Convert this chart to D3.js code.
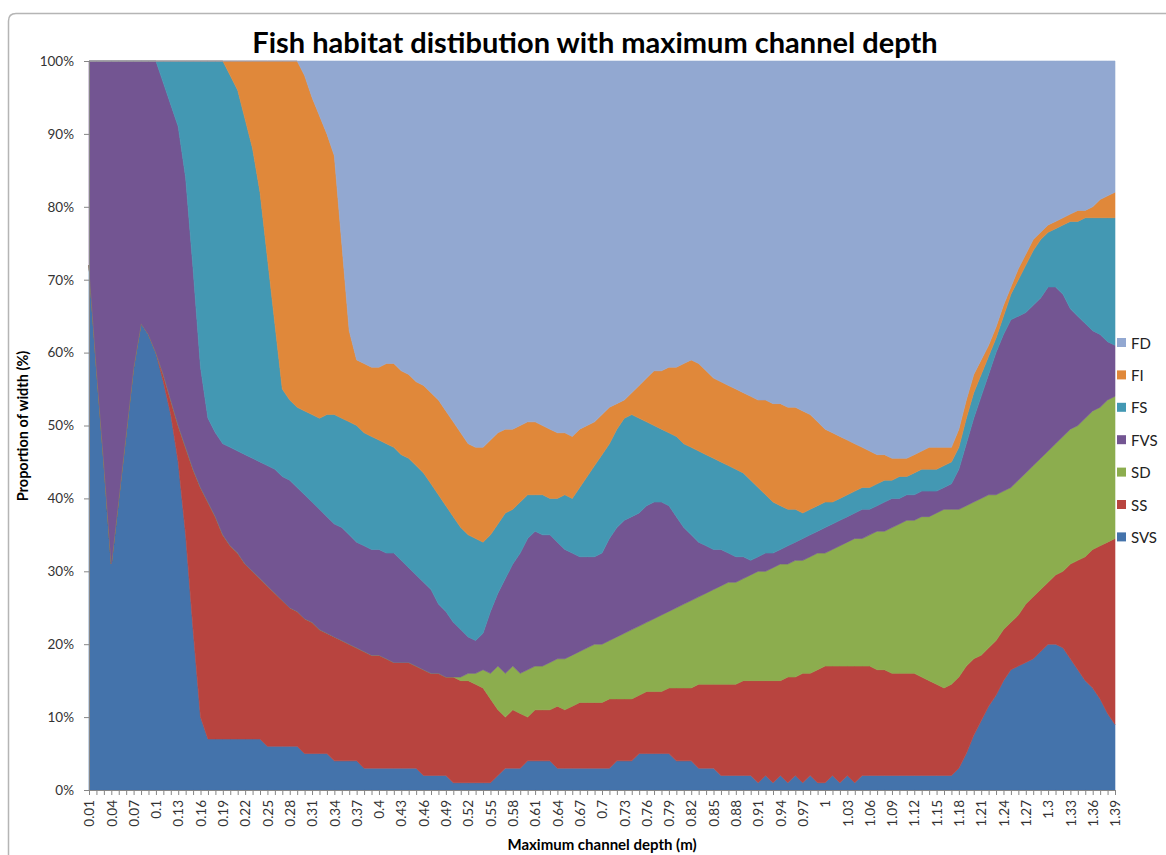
<!DOCTYPE html>
<html>
<head>
<meta charset="utf-8">
<script src="https://cdnjs.cloudflare.com/ajax/libs/d3/7.8.5/d3.min.js"></script>
<style>
  html, body { margin: 0; padding: 0; background: #ffffff; }
  svg { display: block; }
  text { font-family: Lato, "Open Sans", "Liberation Sans", sans-serif; }
</style>
</head>
<body>
<svg id="chart" width="1166" height="855"></svg>
<script>
// ---- categories (maximum channel depth, m) ----
const depths = [0.01,0.02,0.03,0.04,0.05,0.06,0.07,0.08,0.09,0.1,
0.11,0.12,0.13,0.14,0.15,0.16,0.17,0.18,0.19,0.2,
0.21,0.22,0.23,0.24,0.25,0.26,0.27,0.28,0.29,0.3,
0.31,0.32,0.33,0.34,0.35,0.36,0.37,0.38,0.39,0.4,
0.41,0.42,0.43,0.44,0.45,0.46,0.47,0.48,0.49,0.5,
0.51,0.52,0.53,0.54,0.55,0.56,0.57,0.58,0.59,0.6,
0.61,0.62,0.63,0.64,0.65,0.66,0.67,0.68,0.69,0.7,
0.71,0.72,0.73,0.74,0.75,0.76,0.77,0.78,0.79,0.8,
0.81,0.82,0.83,0.84,0.85,0.86,0.87,0.88,0.89,0.9,
0.91,0.92,0.93,0.94,0.95,0.96,0.97,0.98,0.99,1,
1.01,1.02,1.03,1.04,1.05,1.06,1.07,1.08,1.09,1.1,
1.11,1.12,1.13,1.14,1.15,1.16,1.17,1.18,1.19,1.2,
1.21,1.22,1.23,1.24,1.25,1.26,1.27,1.28,1.29,1.3,
1.31,1.32,1.33,1.34,1.35,1.36,1.37,1.38,1.39];

// ---- series values (% of width) ----
const SVS = [72,58,45,31,40,49,58,64,62.5,60,
56,51.5,45,35,22,10,7,7,7,7,
7,7,7,7,6,6,6,6,6,5,
5,5,5,4,4,4,4,3,3,3,
3,3,3,3,3,2,2,2,2,1,
1,1,1,1,1,2,3,3,3,4,
4,4,4,3,3,3,3,3,3,3,
3,4,4,4,5,5,5,5,5,4,
4,4,3,3,3,2,2,2,2,2,
1,2,1,2,1,2,1,2,1,1,
2,1,2,1,2,2,2,2,2,2,
2,2,2,2,2,2,2,3,5,7.5,
9.5,11.5,13,15,16.5,17,17.5,18,19,20,
20,19.5,18,16.5,15,14,12.5,10.5,9];

const SS = [0,0,0,0,0,0,0,0,0,0,
1,2,5,12,22,31.5,32.5,30.5,28,26.5,
25.5,24,23,22,22,21,20,19,18.5,18.5,
18,17,16.5,17,16.5,16,15.5,16,15.5,15.5,
15,14.5,14.5,14.5,14,14.5,14,14,13.5,14.5,
14,14,13.5,13,11.5,9,7,8,7.5,6,
7,7,7,8.5,8,8.5,9,9,9,9,
9.5,8.5,8.5,8.5,8,8.5,8.5,8.5,9,10,
10,10,11.5,11.5,11.5,12.5,12.5,12.5,13,13,
14,13,14,13,14.5,13.5,15,14,15.5,16,
15,16,15,16,15,15,14.5,14.5,14,14,
14,14,13.5,13,12.5,12,12.5,12.5,12,10.5,
9,8,7.5,7,6.5,7,8,8.5,8.5,8.5,
9.5,10.5,13,15,17,19,21,23.5,25.5];

const SD = [0,0,0,0,0,0,0,0,0,0,
0,0,0,0,0,0,0,0,0,0,
0,0,0,0,0,0,0,0,0,0,
0,0,0,0,0,0,0,0,0,0,
0,0,0,0,0,0,0,0,0,0,
0.5,1,1.5,2.5,3.5,6,6,6,5.5,6.5,
6,6,6.5,6.5,7,7,7,7.5,8,8,
8,8.5,9,9.5,9.5,9.5,10,10.5,10.5,11,
11.5,12,12,12.5,13,13.5,14,14,14,14.5,
15,15,15.5,16,15.5,16,15.5,16,16,15.5,
16,16.5,17,17.5,17.5,18,19,19,20,20.5,
21,21,22,22.5,23.5,24.5,24,23,22,21.5,
21.5,21,20,19,18.5,18.5,18,18,18,18,
18,18.5,18.5,18.5,19,19,19,19.5,19.5];

const FVS = [28,42,55,69,60,51,42,36,37.5,40,
40,40.5,41,37,27.5,16.5,11.5,11.5,12.5,13.5,
14,15,15.5,16,16.5,17,17,17.5,17,17,
16.5,16.5,16,15.5,15.5,15,14.5,14.5,14.5,14.5,
14.5,15,14,13,12.5,12,11.5,9.5,9,7.5,
6.5,5,4.5,5,8.5,10,13,14,16.5,18,
18.5,18,17.5,16,15,14,13,12.5,12,12.5,
14,15,15.5,15.5,15.5,16,16,15.5,14.5,12.5,
10.5,9,7.5,6.5,5.5,5,4,3.5,3,2,
2,2.5,2,2,2.5,2.5,3,3,3,3.5,
3.5,3.5,3.5,3.5,4,3.5,3.5,4,4,3.5,
3.5,3.5,3.5,3.5,3,3,3.5,5.5,8.5,11.5,
14,16.5,19.5,21.5,23,22.5,22,22,22,22.5,
21.5,19.5,16.5,15,13,11,10,8,7];

const FS = [0,0,0,0,0,0,0,0,0,0,
3,6,9,16,28.5,42,49,51,52.5,51,
49.5,46,42.5,37,28.5,20,12,11,11,11.5,
12,12.5,14,15,15,15.5,16,15.5,15.5,15,
15,14.5,14.5,15,15,15,14.5,15,14.5,14.5,
14,14,14,12.5,10.5,9.5,9,7.5,7,6,
5,5.5,5,6,7.5,7.5,9.5,11,12.5,13.5,
13,13.5,14,14,13,11.5,10.5,10,10,11,
11.5,12,12.5,12.5,12.5,12,12,12,11.5,11,
9.5,8,7,6,5,4.5,3.5,3.5,3.5,3.5,
3,3,3,3,3,3,3,3,2.5,3,
2.5,3,3,3,3,3,3,3,3.5,3.5,
3,2.5,2,2.5,3.5,5,6.5,7.5,8,7.5,
8,9.5,12,13,14.5,15.5,16,17,17.5];

const FI = [0,0,0,0,0,0,0,0,0,0,
0,0,0,0,0,0,0,0,0,2,
4,8,12,18,27,36,45,46.5,47.5,46,
43.5,41.5,38.5,35.5,24,12.5,9,9.5,9.5,10,
11,11.5,11.5,11.5,11.5,12,12.5,13,13,13,
13,12.5,12.5,13,13,12.5,11.5,11,10.5,10,
10,9.5,9.5,9,8.5,8.5,8,7,6,5.5,
5,3.5,2.5,3,4.5,6,7.5,8,9,9.5,
11,12,12,11.5,11,11,11,11,11,11.5,
12,13,13.5,14,14,14,14,13,11.5,10,
9.5,8.5,7.5,6.5,5.5,5,4,3.5,3,2.5,
2.5,2.5,2.5,3,3,2.5,2,2.5,2.5,2.5,
2,1.5,1.5,1.5,1,1.5,1.5,1.5,1,1,
1,1,1,1.5,1,1.5,2.5,3,3.5];

const FD = [0,0,0,0,0,0,0,0,0,0,
0,0,0,0,0,0,0,0,0,0,
0,0,0,0,0,0,0,0,0,2,
5,7.5,10,13,25,37,41,41.5,42,42,
41.5,41.5,42.5,43,44,44.5,45.5,46.5,48,49.5,
51,52.5,53,53,52,51,50.5,50.5,50,49.5,
49.5,50,50.5,51,51,51.5,50.5,50,49.5,48.5,
47.5,47,46.5,45.5,44.5,43.5,42.5,42.5,42,42,
41.5,41,41.5,42.5,43.5,44,44.5,45,45.5,46,
46.5,46.5,47,47,47.5,47.5,48,48.5,49.5,50.5,
51,51.5,52,52.5,53,53.5,54,54,54.5,54.5,
54.5,54,53.5,53,53,53,53,50.5,46.5,43,
41,39,36.5,33.5,31,28.5,26.5,24.5,23.5,22.5,
22,21.5,21,20.5,20.5,20,19,18.5,18];

const seriesNames = ["SVS","SS","SD","FVS","FS","FI","FD"];
const seriesColors = ["#4473ab","#b8443f","#8cad4e","#735592","#4398b3","#e0883a","#92a8d1"];
const yTicks = [0,0.1,0.2,0.3,0.4,0.5,0.6,0.7,0.8,0.9,1];

const titleText = "Fish habitat distibution with maximum channel depth";
const xTitle = "Maximum channel depth (m)";
const yTitle = "Proportion of width (%)";

// ---- build table ----
const seriesData = {SVS, SS, SD, FVS, FS, FI, FD};
const rows = depths.map((d, i) => {
  const r = {depth: String(d)};
  seriesNames.forEach(n => r[n] = seriesData[n][i]);
  return r;
});

const svg = d3.select("#chart");
const L = 89, R = 1115, T = 61, B = 790;

const x = d3.scalePoint().domain(rows.map(r => r.depth)).range([L, R]);
const y = d3.scaleLinear().domain([0, 1]).range([B, T]);
const color = d3.scaleOrdinal().domain(seriesNames).range(seriesColors);

// outer chart border
svg.append("path")
  .attr("d", `M8.5,855 L8.5,21 Q8.5,13.5 16,13.5 L1166,13.5`)
  .attr("fill", "none").attr("stroke", "#b5b5b5").attr("stroke-width", 1.5);

const stack = d3.stack().keys(seriesNames).offset(d3.stackOffsetExpand);
const stacked = stack(rows);

const area = d3.area()
  .x(d => x(d.data.depth))
  .y0(d => y(d[0]))
  .y1(d => y(d[1]));

svg.append("g").selectAll("path")
  .data(stacked)
  .join("path")
  .attr("d", area)
  .attr("fill", d => color(d.key))
  .attr("stroke", d => color(d.key))
  .attr("stroke-width", 0.6)
  .attr("stroke-linejoin", "round");

// y axis
const yAxis = d3.axisLeft(y).tickValues(yTicks).tickFormat(d3.format(".0%")).tickSize(5).tickPadding(10);
const gy = svg.append("g").attr("transform", `translate(${L},0)`).call(yAxis);
gy.select(".domain").attr("stroke", "#868686");
gy.selectAll(".tick line").attr("stroke", "#868686");
gy.selectAll("text").attr("font-size", 13.5).attr("fill", "#333")
  .attr("font-family", "Lato, 'Open Sans', sans-serif");

// x axis: tick marks at every category, labels every 3rd
const xAxis = d3.axisBottom(x).tickSize(5).tickPadding(4)
  .tickFormat((d, i) => i % 3 === 0 ? d : "");
const gx = svg.append("g").attr("transform", `translate(0,${B})`).call(xAxis);
gx.select(".domain").attr("stroke", "#868686");
gx.selectAll(".tick line").attr("stroke", "#868686");
gx.selectAll("text")
  .attr("font-size", 13.5).attr("fill", "#333")
  .attr("font-family", "Lato, 'Open Sans', sans-serif")
  .attr("transform", "rotate(-90)")
  .attr("text-anchor", "end")
  .attr("y", 0)
  .attr("x", -10)
  .attr("dy", "0.35em");

// title
svg.append("text")
  .attr("x", 595).attr("y", 53)
  .attr("text-anchor", "middle")
  .attr("font-size", 29).attr("font-weight", "bold").attr("fill", "#000")
  .text(titleText);

// axis titles
svg.append("text")
  .attr("x", 602).attr("y", 850)
  .attr("text-anchor", "middle")
  .attr("font-size", 15).attr("font-weight", "bold").attr("fill", "#000")
  .text(xTitle);

svg.append("text")
  .attr("transform", "translate(28,426) rotate(-90)")
  .attr("text-anchor", "middle")
  .attr("font-size", 14.5).attr("font-weight", "bold").attr("fill", "#000")
  .text(yTitle);

// legend (FD at top)
const legendOrder = seriesNames.slice().reverse();
const lg = svg.append("g");
legendOrder.forEach((n, k) => {
  const cy = 343 + k * 32.4;
  lg.append("rect").attr("x", 1117).attr("y", cy - 5).attr("width", 9).attr("height", 9)
    .attr("fill", color(n));
  lg.append("text").attr("x", 1131).attr("y", cy + 5.5)
    .attr("font-size", 15).attr("fill", "#222").text(n);
});
</script>
</body>
</html>
